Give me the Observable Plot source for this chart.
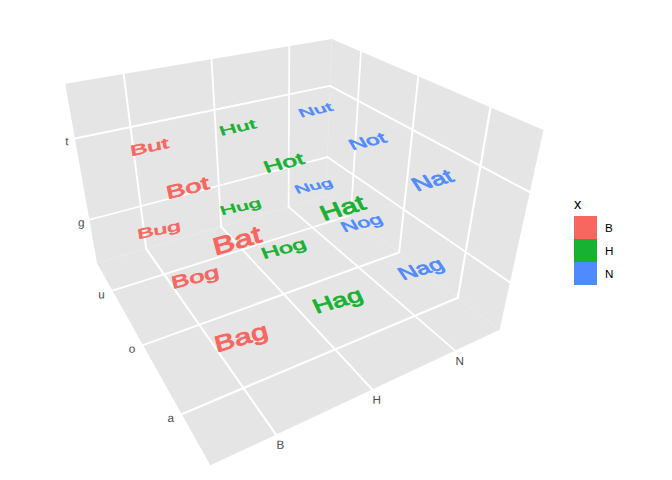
<!DOCTYPE html>
<html><head><meta charset="utf-8">
<script src="https://cdn.jsdelivr.net/npm/d3@7"></script>
<script src="https://cdn.jsdelivr.net/npm/@observablehq/plot@0.6"></script>
<style>html,body{margin:0;padding:0;background:#fff}svg{text-rendering:geometricPrecision}</style></head>
<body><div id="c"></div><script>
// Categories on the three axes; a word is one letter from each.
const xCats=["B","H","N"];
const yCats=["a","o","u"];
const zCats=["g","t"];
const colors=["#F8665F","#18B232","#508AFF"];
const legendTitle="x";
// Axis ranges around the category positions 0,1,2…
const lo=-.6,hiXY=2.6,hiZ=1.6;
// Perspective camera: data (x,y,z) to page pixels.
const camera=[
  [122.9185,-19.60040,-25.60432,240.8171],
  [-13.25794,-22.65146,-118.6013,337.4306],
  [0.07873116,0.1361335,-0.09040724,1]
];
// The words lie in a horizontal plane: per-em baseline and up directions in data units.
const base=[.27,-.04,0],up=[.07,.25,0];
const glyphSize=300; // large nominal size, so the sheared words are drawn as outlines

const words=[];
xCats.forEach((a,i)=>yCats.forEach((b,j)=>zCats.forEach((c,k)=>words.push({t:a+b+c,i,j,k}))));
const dot=(r,p)=>r[0]*p[0]+r[1]*p[1]+r[2]*p[2];
const proj=p=>{const w=dot(camera[2],p)+1;return [(dot(camera[0],p)+camera[0][3])/w,(dot(camera[1],p)+camera[1][3])/w,w]};
const jac=(P,d)=>{const [u,v,w]=proj(P),dw=dot(camera[2],d);return [(dot(camera[0],d)-u*dw)/w,(dot(camera[1],d)-v*dw)/w]};
const seg=(a,b)=>[a,b].map(proj);
const panels=[
  [[lo,hiXY,lo],[hiXY,hiXY,lo],[hiXY,hiXY,hiZ],[lo,hiXY,hiZ]],
  [[hiXY,lo,lo],[hiXY,hiXY,lo],[hiXY,hiXY,hiZ],[hiXY,lo,hiZ]],
  [[lo,lo,lo],[hiXY,lo,lo],[hiXY,hiXY,lo],[lo,hiXY,lo]]
];
const grid=[];
[0,1,2].forEach(i=>{
  grid.push(seg([i,lo,lo],[i,hiXY,lo]),seg([i,hiXY,lo],[i,hiXY,hiZ]),seg([lo,i,lo],[hiXY,i,lo]),seg([hiXY,i,lo],[hiXY,i,hiZ]));
});
[0,1].forEach(k=>grid.push(seg([lo,hiXY,k],[hiXY,hiXY,k]),seg([hiXY,hiXY,k],[hiXY,lo,k])));
const edges=[seg([hiXY,hiXY,lo],[hiXY,hiXY,hiZ]),seg([lo,hiXY,lo],[hiXY,hiXY,lo]),seg([hiXY,hiXY,lo],[hiXY,lo,lo])];
const tick=(t,P,dx,dy)=>{const q=proj(P);return {t,x:q[0],y:q[1],dx,dy}};
const ticks=[
  ...xCats.map((t,i)=>tick(t,[i,lo,lo],4.5,10.5)),
  ...yCats.map((t,i)=>tick(t,[lo,i,lo],-11,4)),
  ...zCats.map((t,i)=>tick(t,[lo,hiXY,i],-8,3))
];
// A word's slant follows the floor under it; its size follows its own depth.
const labels=words.map(d=>{
  const P=[d.i,d.j,d.k],F=[d.i,d.j,lo],q=proj(P),s=Math.pow(proj(F)[2]/q[2],.7);
  const sc=v=>[v[0]*s,v[1]*s];
  return {...d,x:q[0],y:q[1],A:sc(jac(F,base)),U:sc(jac(F,up)),col:xCats[d.i]};
});
const withTransform=(data,f)=>function(idx,s,v,dim,ctx,next){
  const g=next(idx,s,v,dim,ctx);
  d3.select(g).selectAll("text").each(function(_,i){const e=d3.select(this);e.attr("transform",(e.attr("transform")||"")+f(data[idx[i]]))});
  return g;
};
const plot=Plot.plot({
  width:672,height:480,margin:0,
  x:{domain:[0,672],range:[0,672],axis:null},
  y:{domain:[0,480],range:[0,480],axis:null},
  color:{domain:xCats,range:colors},
  marks:[
    ...panels.map(c=>Plot.line(c.map(proj),{x:"0",y:"1",fill:"#E5E5E5",stroke:"none",curve:"linear-closed"})),
    ...edges.map(s=>Plot.line(s,{x:"0",y:"1",stroke:"#E9E9E9",strokeWidth:1})),
    ...grid.map(s=>Plot.line(s,{x:"0",y:"1",stroke:"#fff",strokeWidth:2.5/((s[0][2]+s[1][2])/2)})),
    Plot.text(ticks,{x:"x",y:"y",text:"t",fontSize:11.7,fill:"#4D4D4D",fontFamily:"Liberation Sans",
      render:withTransform(ticks,t=>` translate(${t.dx},${t.dy}) rotate(0.05)`)}),
    Plot.text(labels,{x:"x",y:"y",text:"t",fill:"col",stroke:"col",strokeWidth:glyphSize*.04,fontSize:glyphSize,fontFamily:"Liberation Sans",
      render:withTransform(labels,l=>` matrix(${l.A[0]/glyphSize},${l.A[1]/glyphSize},${-l.U[0]/glyphSize},${-l.U[1]/glyphSize},0,0)`)})
  ]
});
const c=document.getElementById("c");
c.style.position="relative";c.style.width="672px";c.style.height="480px";
c.append(plot);
const lg=d3.select(c).append("div").style("position","absolute").style("left","574px").style("top","196px").style("font-family","Liberation Sans").style("transform","rotate(0.01deg)");
lg.append("div").text(legendTitle).style("font-size","14.6px").style("height","20px").style("line-height","16px");
xCats.forEach((t,i)=>{
  const r=lg.append("div").style("display","flex").style("height","23px").style("align-items","center");
  r.append("div").style("width","23px").style("height","23px").style("background",colors[i]);
  r.append("div").text(t).style("font-size","11.7px").style("margin-left","8px");
});
</script></body></html>
